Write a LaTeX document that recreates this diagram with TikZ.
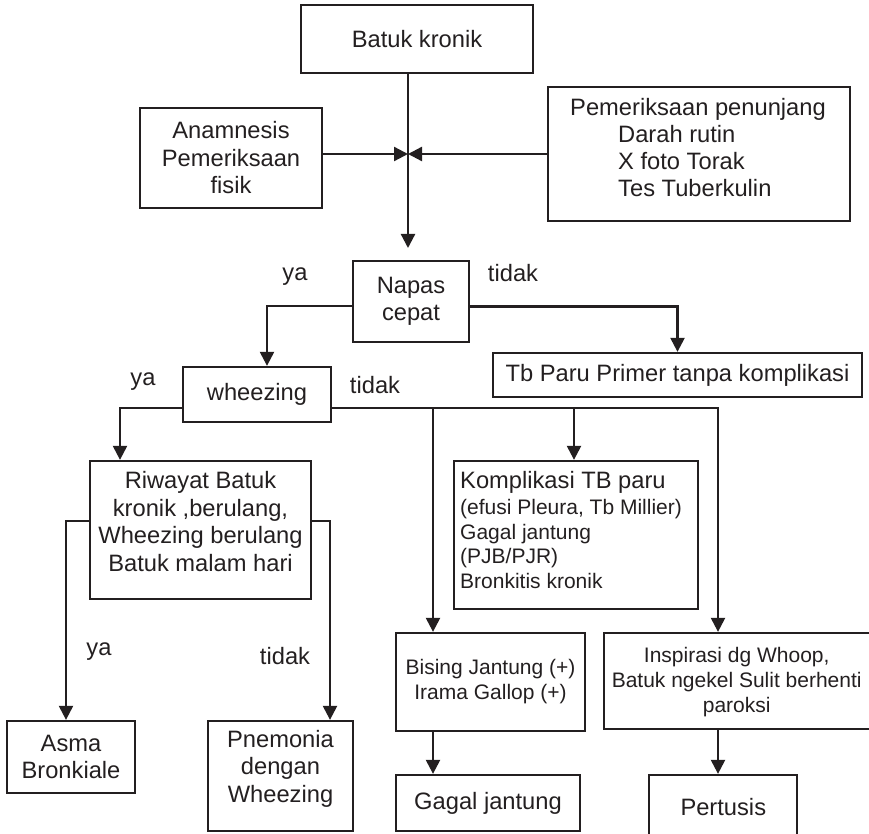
\documentclass[tikz,border=0pt]{standalone}
\usepackage{fontspec}
\setmainfont{Liberation Sans}
\usetikzlibrary{arrows.meta}
\definecolor{ink}{HTML}{231F20}
\newcommand{\smalltext}{\fontsize{21}{24.5}\selectfont}
\tikzset{
  box/.style={draw=ink, line width=2.3pt, inner sep=0pt, rectangle},
  txt/.style={text=ink, inner sep=0pt, align=center, font=\fontsize{23.7}{27.5}\selectfont},
  small/.style={font=\fontsize{21}{25}\selectfont},
  link/.style={draw=ink, line width=2.3pt},
  arr/.style={link, -{Triangle[length=14pt,width=14pt]}},
}
\begin{document}
\begin{tikzpicture}[x=1pt, y=-1pt]
\useasboundingbox (0,0) rectangle (869,834);
\clip (0,0) rectangle (869,834);

% boxes
\node[box, txt, minimum width=232pt, minimum height=68pt] (batuk) at (417,39) {Batuk kronik};
\node[box, txt, minimum width=182pt, minimum height=100pt] (anam) at (231,158) {Anamnesis\\Pemeriksaan\\fisik};
\node[box, minimum width=302pt, minimum height=134pt] (penunjang) at (699,154) {};
\node[txt, anchor=west, align=left, font=\fontsize{23.7}{27}\selectfont] (penunjang-t) at (570,147.5)
  {Pemeriksaan penunjang\\\hspace*{48pt}Darah rutin\\\hspace*{48pt}X foto Torak\\\hspace*{48pt}Tes Tuberkulin};
\node[box, txt, minimum width=116pt, minimum height=81pt] (napas) at (411,301.5) {Napas\\cepat};
\node[box, txt, minimum width=369pt, minimum height=44pt] (tb) at (677.5,375) {Tb Paru Primer tanpa komplikasi};
\node[box, txt, minimum width=148pt, minimum height=55pt] (wheeze) at (257,394.5) {wheezing};
\node[box, minimum width=244pt, minimum height=148pt] (kompl) at (576,535) {};
\node[txt, anchor=west, align=left] (kompl-t) at (460,530)
  {Komplikasi TB paru\\[-1pt]{\smalltext (efusi Pleura, Tb Millier)}\\[-3pt]{\smalltext Gagal jantung}\\[-3pt]{\smalltext (PJB/PJR)}\\[-3pt]{\smalltext Bronkitis kronik}};
\node[box, minimum width=221pt, minimum height=138pt] (riwayat) at (200.5,530) {};
\node[txt] (riwayat-t) at (200.5,521.4) {Riwayat Batuk\\kronik ,berulang,\\Wheezing berulang\\Batuk malam hari};
\node[box, txt, minimum width=128pt, minimum height=72pt] (asma) at (71,757) {Asma\\Bronkiale};
\node[box, minimum width=145pt, minimum height=110pt] (pnem) at (280.5,776) {};
\node[txt] (pnem-t) at (280.5,768.6) {Pnemonia\\dengan\\Wheezing};
\node[box, txt, small, minimum width=189pt, minimum height=98pt] (bising) at (490.5,682) {Bising Jantung (+)\\Irama Gallop (+)};
\node[box, txt, minimum width=184pt, minimum height=56pt] (gagal) at (488,803) {Gagal jantung};
\node[box, minimum width=267pt, minimum height=96pt] (insp) at (737.5,681) {};
\node[txt, small] (insp-t) at (736.7,681.7) {Inspirasi dg Whoop,\\Batuk ngekel Sulit berhenti\\paroksi};
\node[box, txt, minimum width=148pt, minimum height=63pt] (pert) at (723,806.5) {};
\node[txt] (pert-t) at (723.3,806.7) {Pertusis};

% junction points
\coordinate (meet) at (408,154);
\coordinate (napasin) at (408,248);
\coordinate (s1) at (433,408);
\coordinate (s2) at (574,408);
\coordinate (s3) at (718,408);

% connectors
\draw[link] ([xshift=-9pt]batuk.south) -- (meet);
\draw[arr] (meet) -- (napasin);
\draw[arr] (anam.east |- meet) -- (meet);
\draw[arr] (penunjang.west |- meet) -- (meet);
\draw[arr] ([yshift=-4.5pt]napas.west) -| ([xshift=10pt]wheeze.north);
\draw[arr] ([yshift=-5pt]napas.east) -| (tb.north);
\draw[arr] ([yshift=-13.5pt]wheeze.west) -| ([xshift=-80.5pt]riwayat.north);
\draw[arr] ([yshift=-13.5pt]wheeze.east) -- (s3) -- (s3 |- insp.north);
\draw[arr] (s1) -- (s1 |- bising.north);
\draw[arr] (s2) -- (s2 |- kompl.north);
\draw[arr] ([yshift=9pt]riwayat.west) -| ([xshift=-5pt]asma.north);
\draw[arr] ([yshift=9pt]riwayat.east) -| ([xshift=49.5pt]pnem.north);
\draw[arr] (s1 |- bising.south) -- (s1 |- gagal.north);
\draw[arr] (s3 |- insp.south) -- (s3 |- pert.north);

% branch labels
\node[txt] (l1) at (295,277) {ya};
\node[txt] (l2) at (513,273) {tidak};
\node[txt] (l3) at (143,382) {ya};
\node[txt] (l4) at (375,385) {tidak};
\node[txt] (l5) at (99,652) {ya};
\node[txt] (l6) at (285,656) {tidak};
\end{tikzpicture}
\end{document}
